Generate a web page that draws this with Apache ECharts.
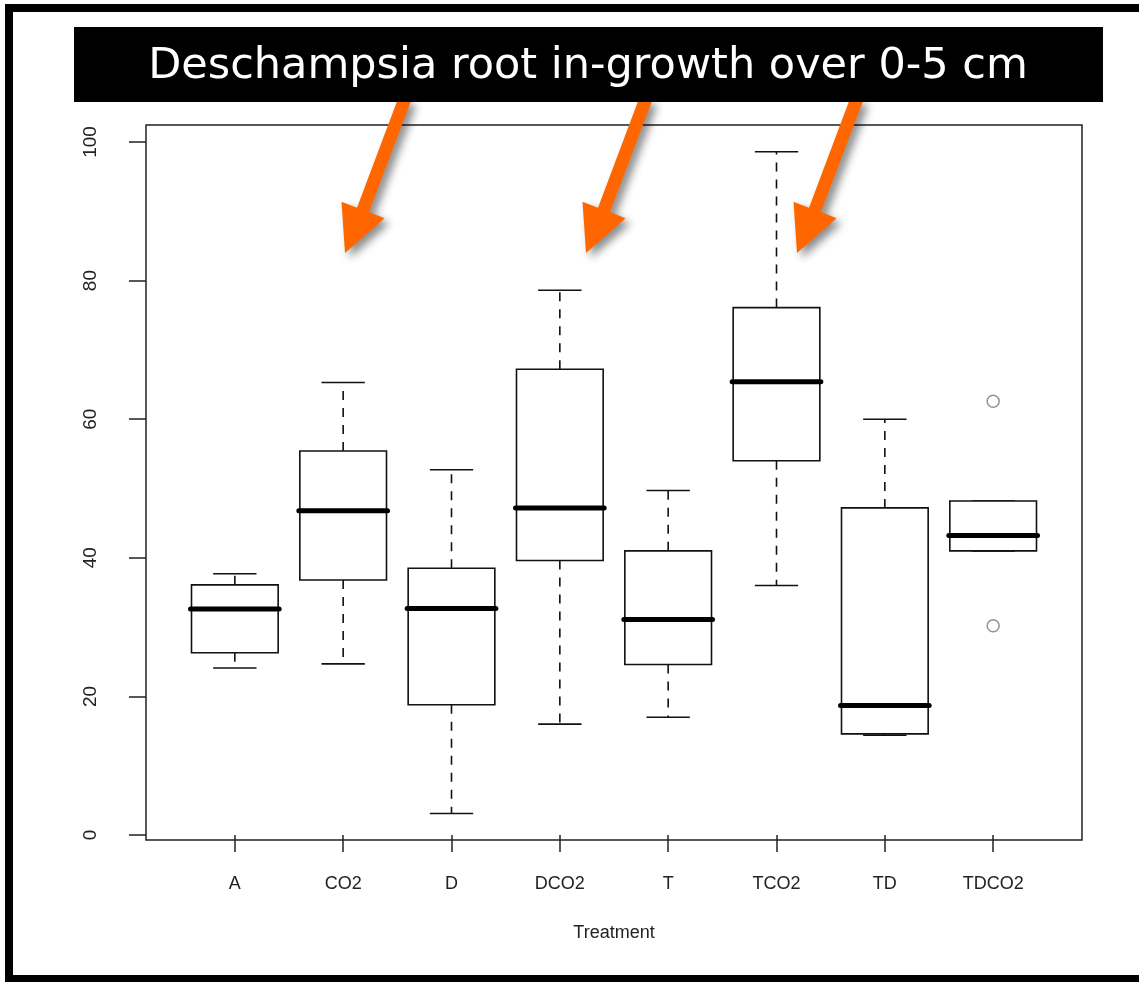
<!DOCTYPE html>
<html>
<head>
    <meta http-equiv="Content-Type" content="text/html; charset=utf-8" />
    <title>Deschampsia root in-growth</title>
    <style>
        html, body { margin: 0; padding: 0; background: #fff; }
        #chart { width: 1139px; height: 982px; }
    </style>
</head>
<body>
    <div id="chart"></div>
    <script src="https://cdn.jsdelivr.net/npm/echarts/dist/echarts.min.js"></script>
<script>
    // treatments along the x axis
    var categories = ["A", "CO2", "D", "DCO2", "T", "TCO2", "TD", "TDCO2"];
    // five-number summary per treatment (lower whisker, Q1, median, Q3, upper whisker)
    var whiskerLow  = [24.1, 24.7,  3.1, 16.0, 17.0, 36.0, 14.4, 41.0];
    var quart1      = [26.3, 36.8, 18.8, 39.6, 24.6, 54.0, 14.6, 41.0];
    var medians     = [32.6, 46.8, 32.7, 47.2, 31.1, 65.4, 18.7, 43.2];
    var quart3      = [36.1, 55.4, 38.5, 67.2, 41.0, 76.1, 47.2, 48.2];
    var whiskerHigh = [37.7, 65.3, 52.7, 78.6, 49.7, 98.6, 60.0, 48.2];
    // outliers: [category index, value]
    var outlierCat = [8, 8];
    var outlierVal = [62.6, 30.2];
    var yTicks = [0, 20, 40, 60, 80, 100];
    var xTicks = [1, 2, 3, 4, 5, 6, 7, 8];

    var boxData = categories.map(function (c, i) {
        return [i + 1, whiskerLow[i], quart1[i], medians[i], quart3[i], whiskerHigh[i]];
    });
    var outData = outlierCat.map(function (c, i) { return [c, outlierVal[i]]; });

    // R style box: solid box, dashed whiskers, thick median
    function renderBox(params, api) {
        var x = api.value(0);
        var lo = api.value(1), q1 = api.value(2), md = api.value(3), q3 = api.value(4), hi = api.value(5);
        var tl = api.coord([x - 0.4, q3]);
        var br = api.coord([x + 0.4, q1]);
        var cx = api.coord([x, q3])[0];
        var capL = api.coord([x - 0.2, hi])[0];
        var capR = api.coord([x + 0.2, hi])[0];
        var yHi = api.coord([x, hi])[1];
        var yLo = api.coord([x, lo])[1];
        var yMd = api.coord([x, md])[1];
        var stroke = { stroke: '#111', lineWidth: 1.6, fill: null };
        var dashed = { stroke: '#111', lineWidth: 1.6, lineDash: [9, 8] };
        return {
            type: 'group',
            children: [
                { type: 'line', shape: { x1: cx, y1: tl[1], x2: cx, y2: yHi }, style: dashed },
                { type: 'line', shape: { x1: cx, y1: br[1], x2: cx, y2: yLo }, style: dashed },
                { type: 'line', shape: { x1: capL, y1: yHi, x2: capR, y2: yHi }, style: stroke },
                { type: 'line', shape: { x1: capL, y1: yLo, x2: capR, y2: yLo }, style: stroke },
                { type: 'rect', shape: { x: tl[0], y: tl[1], width: br[0] - tl[0], height: br[1] - tl[1] },
                  style: { stroke: '#111', lineWidth: 1.6, fill: '#fff' } },
                { type: 'line', shape: { x1: tl[0] - 1, y1: yMd, x2: br[0] + 1, y2: yMd },
                  style: { stroke: '#000', lineWidth: 5, lineCap: 'round' } }
            ]
        };
    }

    // orange call-out arrow, drawn around its tip
    function arrow(dx) {
        return {
            type: 'polygon',
            z: 5,
            shape: {
                points: [[399 + dx, 96], [411 + dx, 101], [369 + dx, 212], [384.5 + dx, 218.2],
                         [345 + dx, 253], [341.5 + dx, 201.8], [357 + dx, 207.7]]
            },
            style: {
                fill: '#ff6600',
                shadowBlur: 8,
                shadowColor: 'rgba(0,0,0,0.45)',
                shadowOffsetX: 5,
                shadowOffsetY: 5
            }
        };
    }

    var myChart = echarts.init(document.getElementById("chart"));
    var option = {
        backgroundColor: '#fff',
        animation: false,
        grid: {
            left: 146,
            top: 125,
            right: 57,
            bottom: 142,
            show: true,
            borderColor: '#222',
            borderWidth: 1.5,
            backgroundColor: 'transparent'
        },
        xAxis: {
            type: 'value',
            min: 0.18,
            max: 8.82,
            name: 'Treatment',
            nameLocation: 'middle',
            nameGap: 84,
            nameTextStyle: { fontFamily: 'Liberation Sans', fontSize: 18, color: '#222' },
            axisLine: { show: false },
            splitLine: { show: false },
            axisTick: { show: true, inside: false, length: 17, customValues: xTicks,
                        lineStyle: { color: '#222', width: 1.5 } },
            axisLabel: {
                customValues: xTicks,
                margin: 35,
                fontFamily: 'Liberation Sans',
                fontSize: 18,
                color: '#222',
                formatter: function (v) { return categories[Math.round(v) - 1]; }
            }
        },
        yAxis: {
            type: 'value',
            min: -0.72,
            max: 102.45,
            axisLine: { show: false },
            splitLine: { show: false },
            axisTick: { show: true, inside: false, length: 17, customValues: yTicks,
                        lineStyle: { color: '#222', width: 1.5 } },
            axisLabel: {
                customValues: yTicks,
                rotate: 90,
                margin: 46,
                fontFamily: 'Liberation Sans',
                fontSize: 19,
                color: '#222'
            }
        },
        graphic: [
            // outer frame of the slide
            { type: 'rect', z: 1, shape: { x: 9, y: 8, width: 1200, height: 971 },
              style: { stroke: '#000', lineWidth: 8, fill: null } },
            arrow(0),
            arrow(241),
            arrow(452),
            // title banner
            { type: 'rect', z: 10, shape: { x: 74, y: 27, width: 1029, height: 75 }, style: { fill: '#000' } },
            { type: 'text', z: 11, x: 588, y: 67,
              style: { text: 'Deschampsia root in-growth over 0-5 cm', fill: '#fff',
                       font: '43px "DejaVu Sans"', align: 'center', verticalAlign: 'middle' } }
        ],
        series: [
            {
                name: 'boxes',
                type: 'custom',
                renderItem: renderBox,
                encode: { x: 0, y: [1, 2, 3, 4, 5] },
                data: boxData
            },
            {
                name: 'outliers',
                type: 'scatter',
                symbol: 'circle',
                symbolSize: 12,
                itemStyle: { color: '#fff', borderColor: '#777', borderWidth: 1.5 },
                data: outData
            }
        ]
    };

    myChart.setOption(option);
</script>
</body>
</html>
